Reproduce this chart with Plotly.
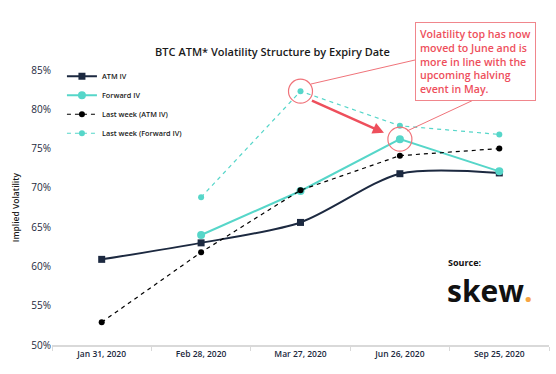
import plotly.graph_objects as go

categories = ["Jan 31, 2020", "Feb 28, 2020", "Mar 27, 2020", "Jun 26, 2020", "Sep 25, 2020"]
atm_iv = [60.9, 63.0, 65.6, 71.8, 71.9]
forward_iv = [None, 64.0, 69.6, 76.2, 72.1]
last_week_atm = [52.9, 61.8, 69.7, 74.1, 75.0]
last_week_fwd = [None, 68.8, 82.3, 77.9, 76.8]
y_ticks = [50, 55, 60, 65, 70, 75, 80, 85]
y_tick_labels = ["50%", "55%", "60%", "65%", "70%", "75%", "80%", "85%"]

NAVY = "#1c2940"
TURQ = "#56d6c9"
RED = "#ee4f5c"
FONT = "Open Sans"

fig = go.Figure()
fig.add_trace(go.Scatter(x=categories, y=atm_iv, name="ATM IV", mode="lines+markers",
                         line=dict(color=NAVY, width=2, shape="spline", smoothing=0.8),
                         marker=dict(symbol="square", size=7, color=NAVY)))
fig.add_trace(go.Scatter(x=categories, y=forward_iv, name="Forward IV", mode="lines+markers",
                         line=dict(color=TURQ, width=2),
                         marker=dict(symbol="circle", size=8, color=TURQ)))
fig.add_trace(go.Scatter(x=categories, y=last_week_atm, name="Last week (ATM IV)", mode="lines+markers",
                         line=dict(color="#000000", width=1.2, dash="4px,4px"),
                         marker=dict(symbol="circle", size=6, color="#000000")))
fig.add_trace(go.Scatter(x=categories, y=last_week_fwd, name="Last week (Forward IV)", mode="lines+markers",
                         line=dict(color=TURQ, width=1.2, dash="4px,4px"),
                         marker=dict(symbol="circle", size=6, color=TURQ)))

# highlight circles around the two points of interest
hl_x = [categories[2], categories[3]]
hl_y = [last_week_fwd[2], forward_iv[3]]
fig.add_trace(go.Scatter(x=hl_x, y=hl_y, mode="markers", showlegend=False, hoverinfo="skip",
                         marker=dict(symbol="circle-open", size=24, color="#f0737a",
                                     line=dict(width=1.2, color="#f0737a"))))

# arrow from last-week peak towards new peak
fig.add_annotation(x=2.84, y=77.0, ax=2.1, ay=81.2, xref="x", yref="y", axref="x", ayref="y",
                   text="", showarrow=True, arrowhead=2, arrowsize=0.9, arrowwidth=2.5,
                   arrowcolor=RED)

def px_to_paper(px, py):
    return (px - 52) / 497, (345 - py) / 275

# connector lines from box to circles
for (x0, y0), (x1, y1) in [((415, 60), (311, 84)), ((480, 97), (407, 131))]:
    a = px_to_paper(x0, y0)
    b = px_to_paper(x1, y1)
    fig.add_shape(type="line", xref="paper", yref="paper", x0=a[0], y0=a[1], x1=b[0], y1=b[1],
                  line=dict(color="#f0737a", width=1))

bx, by = px_to_paper(415, 22)
fig.add_annotation(xref="paper", yref="paper", x=bx, y=by, xanchor="left", yanchor="top",
                   text="Volatility top has now<br>moved to June and is<br>more in line with the<br>upcoming halving<br>event in May.",
                   showarrow=False, align="left", font=dict(family=FONT, size=10.6, color=RED, weight=600),
                   bordercolor="#f0868c", borderwidth=1, borderpad=4, bgcolor="white")

sx, sy = px_to_paper(446, 262)
fig.add_annotation(xref="paper", yref="paper", x=sx, y=sy, xanchor="left", yanchor="middle",
                   text="Source:", showarrow=False, font=dict(family=FONT, size=9, color="#111111", weight=700))
kx, ky = px_to_paper(445, 290)
fig.add_annotation(xref="paper", yref="paper", x=kx, y=ky, xanchor="left", yanchor="middle",
                   text="skew<span style='color:#f7a543'>.</span>", showarrow=False,
                   font=dict(family=FONT, size=30, color="#111111", weight=700))

fig.update_layout(
    width=556, height=374,
    margin=dict(l=52, r=7, t=70, b=29),
    paper_bgcolor="white", plot_bgcolor="white",
    title=dict(text="BTC ATM* Volatility Structure by Expiry Date", x=0.49, xanchor="center",
               y=0.86, yanchor="middle",
               font=dict(family=FONT, size=11, color="#1a1a1a", weight=600)),
    font=dict(family=FONT, color=NAVY),
    legend=dict(x=0.02, y=1.03, xanchor="left", yanchor="top", bgcolor="rgba(0,0,0,0)",
                font=dict(family=FONT, size=7.3, color="#1a1a1a", weight=600),
                itemwidth=30, tracegroupgap=0),
    showlegend=True,
)
fig.update_xaxes(type="category", range=[-0.5, 4.5], showgrid=False, showline=True,
                 linecolor="#d9d9d9", linewidth=2, ticks="outside", tickson="boundaries",
                 ticklen=4, tickcolor="#d9d9d9", tickfont=dict(family=FONT, size=8.5, color=NAVY, weight=600))
fig.update_yaxes(range=[50, 85], tickvals=y_ticks, ticktext=y_tick_labels, showgrid=False,
                 zeroline=False, showline=False, tickfont=dict(family=FONT, size=10, color=NAVY),
                 title=dict(text="Implied Volatility", font=dict(family=FONT, size=8.5, color="#1a1a1a", weight=600),
                            standoff=10))

fig.write_html("out.html", config={"displayModeBar": False},
               post_script="document.body.style.margin='0px';")
